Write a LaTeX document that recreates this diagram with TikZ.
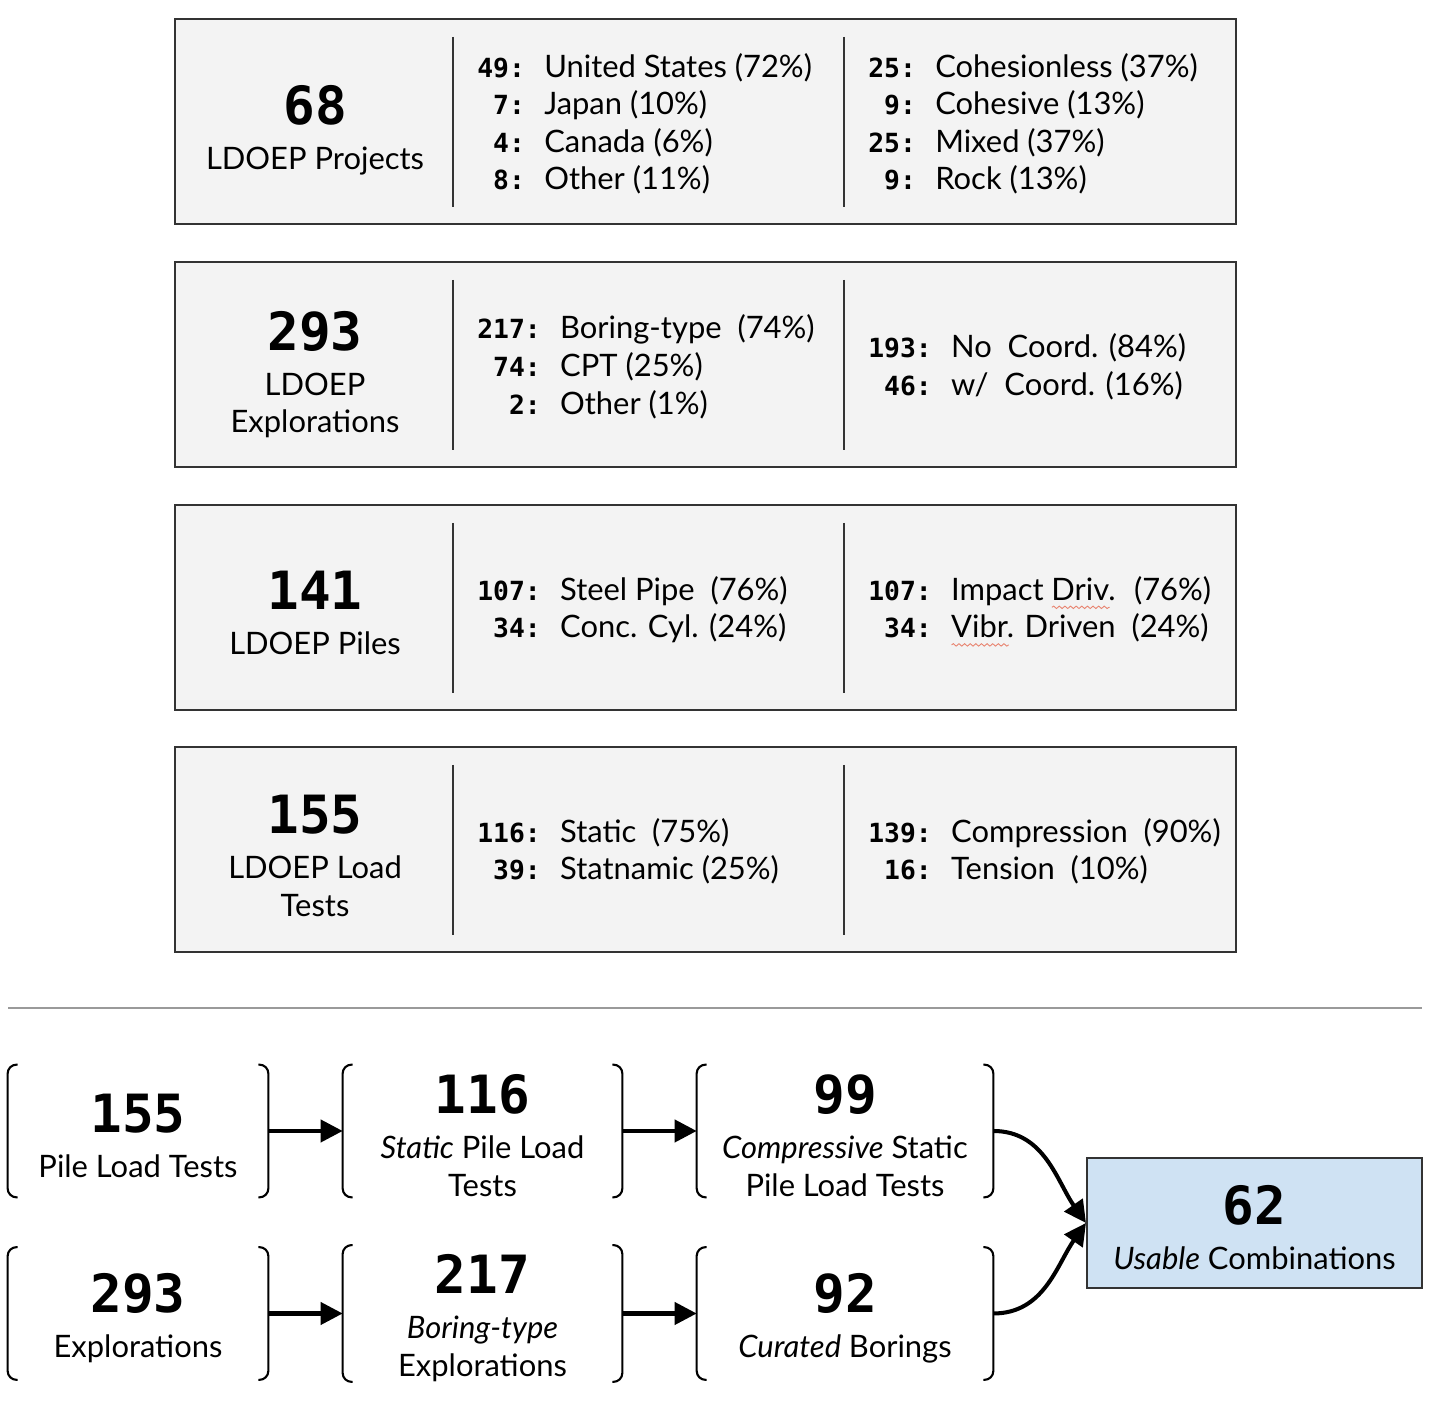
\documentclass[tikz,border=0pt]{standalone}
\usepackage{fontspec}
\setmainfont{Lato}
\newfontfamily\monofont{DejaVu Sans Mono}
\usetikzlibrary{arrows.meta,positioning,decorations.pathmorphing}

\newlength\wavelen
\newcommand\redwave[1]{\settowidth\wavelen{#1}\leavevmode\rlap{\smash{\raisebox{-5pt}{\tikz\draw[wavecolor, line width=0.5pt, decorate, decoration={snake, amplitude=0.7pt, segment length=3.2pt}] (0pt,0pt) -- (\wavelen,0pt);}}}#1}
\newcommand\bignum[1]{{\monofont\bfseries\fontsize{30}{30}\selectfont #1}}
\newcommand\stagenum[1]{\rule{0pt}{27.6pt}\bignum{#1}}
\newcommand\cnt[1]{{\monofont\bfseries\fontsize{15}{21.4}\selectfont #1:}}

\definecolor{panelgray}{HTML}{F3F3F3}
\definecolor{edgegray}{HTML}{333333}
\definecolor{rulegray}{HTML}{9A9A9A}
\definecolor{resultblue}{HTML}{CFE2F3}
\definecolor{wavecolor}{HTML}{E8836F}

\tikzset{
  every node/.style={font=\fontsize{17.6}{21.4}\selectfont},
  panel/.style={draw=edgegray, line width=1.2pt, fill=panelgray,
    minimum width=21.22cm, minimum height=4.1cm},
  count/.style={align=center, inner sep=0pt},
  tally/.style={anchor=west, inner sep=0pt},
  stage/.style={align=center, minimum height=2.64cm, inner sep=0pt},
  result/.style={align=center, draw=edgegray, line width=1.2pt, fill=resultblue,
    minimum width=6.7cm, minimum height=2.6cm},
  flow/.style={line width=2.3pt, -{Triangle[length=0.44cm,width=0.44cm]}},
}

\begin{document}
\begin{tikzpicture}[x=0.02cm, y=0.02cm]
  \useasboundingbox (0,0) rectangle (1430,1408);

  % summary panels
  \node[panel] (proj) at (705.5,1286.5) {};
  \node[panel] (expl) at (705.5,1043.5) {};
  \node[panel] (pile) at (705.5,800.5) {};
  \node[panel] (test) at (705.5,558.5) {};
  \foreach \p in {proj,expl,pile,test} {
    \draw[edgegray, line width=1.2pt] ([shift={(5.58cm,-0.38cm)}]\p.north west) -- ([shift={(5.58cm,0.36cm)}]\p.south west);
    \draw[edgegray, line width=1.2pt] ([shift={(13.4cm,-0.38cm)}]\p.north west) -- ([shift={(13.4cm,0.36cm)}]\p.south west);
  }

  \node[count] (projn) at (315,1278) {\bignum{68}\\[4pt]LDOEP Projects};
  \node[tally] (projc) at (477,1282) {\begin{tabular}{@{}r@{\hspace{11pt}}l@{}}
    \cnt{49} & United States (72\%)\\ \cnt{7} & Japan (10\%)\\
    \cnt{4} & Canada (6\%)\\ \cnt{8} & Other (11\%)\end{tabular}};
  \node[tally] (projs) at (868,1282) {\begin{tabular}{@{}r@{\hspace{11pt}}l@{}}
    \cnt{25} & Cohesionless (37\%)\\ \cnt{9} & Cohesive (13\%)\\
    \cnt{25} & Mixed (37\%)\\ \cnt{9} & Rock (13\%)\end{tabular}};

  \node[count] (expln) at (315,1033) {\bignum{293}\\[4pt]LDOEP\\Explorations};
  \node[tally] (explt) at (477,1039) {\begin{tabular}{@{}r@{\hspace{11pt}}l@{}}
    \cnt{217} & Boring-type~ (74\%)\\ \cnt{74} & CPT (25\%)\\
    \cnt{2} & Other (1\%)\end{tabular}};
  \node[tally] (explc) at (868,1039) {\begin{tabular}{@{}r@{\hspace{11pt}}l@{}}
    \cnt{193} & No~ Coord. (84\%)\\ \cnt{46} & w/~ Coord. (16\%)\end{tabular}};

  \node[count] (pilen) at (315,795) {\bignum{141}\\[4pt]LDOEP Piles};
  \node[tally] (pilem) at (477,796.5) {\begin{tabular}{@{}r@{\hspace{11pt}}l@{}}
    \cnt{107} & Steel Pipe~ (76\%)\\ \cnt{34} & Conc. Cyl. (24\%)\end{tabular}};
  \node[tally] (pilei) at (868,796.5) {\begin{tabular}{@{}r@{\hspace{11pt}}l@{}}
    \cnt{107} & Impact \redwave{Driv}.~ (76\%)\\ \cnt{34} & \redwave{Vibr}. Driven~ (24\%)\end{tabular}};

  \node[count] (testn) at (315,552) {\bignum{155}\\[4pt]LDOEP Load\\Tests};
  \node[tally] (testt) at (477,554.5) {\begin{tabular}{@{}r@{\hspace{11pt}}l@{}}
    \cnt{116} & Static~ (75\%)\\ \cnt{39} & Statnamic (25\%)\end{tabular}};
  \node[tally] (testd) at (868,554.5) {\begin{tabular}{@{}r@{\hspace{11pt}}l@{}}
    \cnt{139} & Compression~ (90\%)\\ \cnt{16} & Tension~ (10\%)\end{tabular}};

  \draw[rulegray, line width=1pt] (8,400) -- (1422,400);

  % filtering stages
  \node[stage, minimum width=5.2cm] (plt) at (138,277) {\stagenum{155}\\[4pt]Pile Load Tests};
  \node[stage, minimum width=5.58cm] (splt) at (482.5,277) {\stagenum{116}\\[4pt]\textit{Static} Pile Load\\Tests};
  \node[stage, minimum width=5.92cm] (csplt) at (845,277) {\stagenum{99}\\[4pt]\textit{Compressive} Static\\Pile Load Tests};
  \node[stage, minimum width=5.2cm] (alle) at (138,94.5) {\stagenum{293}\\[4pt]Explorations};
  \node[stage, minimum width=5.58cm] (bore) at (482.5,94.5) {\stagenum{217}\\[4pt]\textit{Boring-type}\\Explorations};
  \node[stage, minimum width=5.92cm] (cure) at (845,94.5) {\stagenum{92}\\[4pt]\textit{Curated} Borings};
  \node[result] (usable) at (1254.5,185) {\stagenum{62}\\[4pt]\textit{Usable} Combinations};
  \foreach \s in {plt,splt,csplt,alle,bore,cure} {
    \draw[line width=1.2pt, rounded corners=5pt] ([xshift=0.2cm]\s.north west) -- (\s.north west) -- (\s.south west) -- ([xshift=0.2cm]\s.south west);
    \draw[line width=1.2pt, rounded corners=5pt] ([xshift=-0.2cm]\s.north east) -- (\s.north east) -- (\s.south east) -- ([xshift=-0.2cm]\s.south east);
  }

  \draw[flow] (plt) -- (splt);
  \draw[flow] (splt) -- (csplt);
  \draw[flow] (alle) -- (bore);
  \draw[flow] (bore) -- (cure);
  \draw[flow] (csplt.east) to[out=0, in=125] (usable.west);
  \draw[flow] (cure.east) to[out=0, in=235] (usable.west);
\end{tikzpicture}
\end{document}
